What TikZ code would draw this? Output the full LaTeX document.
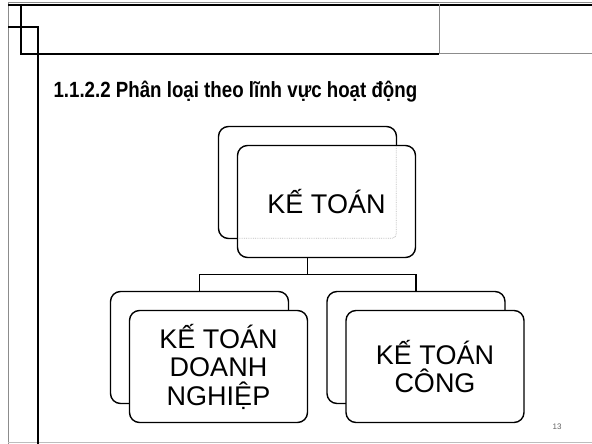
\documentclass[tikz,border=0pt]{standalone}
\usepackage{fontspec}
\setmainfont{Liberation Sans}
\newfontfamily\titulofont[FakeStretch=0.85]{Liberation Sans}
\usepackage{tikz}
\usetikzlibrary{positioning,calc}
\definecolor{marco}{HTML}{8C8C8C}
\definecolor{grisclaro}{HTML}{BDBDBD}

\begin{document}
\begin{tikzpicture}[
  x=1pt, y=-1pt,
  caja/.style={draw=black, rounded corners=10pt, line width=1.4pt, fill=white, minimum width=178pt, minimum height=112pt, inner sep=0pt},
  frente/.style={caja, align=center, font=\fontsize{27}{28.5}\selectfont},
  linea/.style={black, line width=1.2pt},
  borde/.style={line width=1.6pt}]
\useasboundingbox (0,0) rectangle (592,444);
% marco de la diapositiva
\draw[marco, line width=1pt] (8,444) -- (8,3) -- (592,3);
\draw[borde] (8,5) -- (592,5);
\draw[grisclaro, line width=0.8pt] (8,442) -- (592,442);
\draw[borde] (21,4) -- (21,54) -- (439,54);
\draw[marco, line width=1pt] (439,4) -- (439,54) -- (592,54);
\draw[line width=2pt] (8,27) -- (38,27) -- (38,444);
\node[anchor=base west, font=\titulofont\fontsize{22}{24}\selectfont\bfseries] (titulo) at (50,97) {1.1.2.2 Phân loại theo lĩnh vực hoạt động};
% cajas de fondo
\node[caja] (ktb) at (307.5,182.5) {};
\node[caja] (dnb) at (199.5,347.5) {};
\node[caja] (cgb) at (416,347.5) {};
\draw[linea] (ktb.south) -- ($(ktb.south)+(0,35.5)$) coordinate (rama) -| (dnb.north);
\draw[linea] (rama) -| (cgb.north);
% cajas de frente
\node[frente] (kt) at ($(ktb)+(19,19)$) {KẾ TOÁN};
\draw[grisclaro, densely dotted, line width=0.8pt, rounded corners=4pt] ($(kt.west |- ktb.south)+(2,-1)$) -- ($(ktb.south east)+(-1,-1)$) -- ($(ktb.east |- kt.north)+(-1,1)$);
\node[frente] (dn) at ($(dnb)+(19,19)$) {KẾ TOÁN\\DOANH\\NGHIỆP};
\node[frente] (cg) at ($(cgb)+(19,19)$) {KẾ TOÁN\\CÔNG};
\node[font=\fontsize{8}{9}\selectfont, text=marco!70!black] (pag) at (557,427) {13};
\end{tikzpicture}
\end{document}
